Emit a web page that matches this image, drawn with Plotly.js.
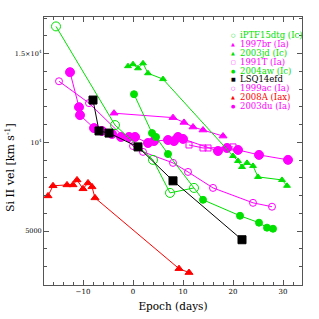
<!DOCTYPE html>
<html><head><meta charset="utf-8">
<script src="https://cdn.plot.ly/plotly-3.0.1.min.js"></script>
<style>html,body{margin:0;padding:0;background:#fff}#c{width:319px;height:319px}</style>
</head><body><div id="c"></div>
<script>
// ---- data (epoch in days, Si II velocity in km/s) ----
const names = ["iPTF15dtg (Ic)","1997br (Ia)","2003jd (Ic)","1991T (Ia)","2004aw (Ic)","LSQ14efd","1999ac (Ia)","2008A (Iax)","2003du (Ia)"];
const iptfX = [-15.4, -3.6, 4.0, 7.4, 12.2];
const iptfY = [16530, 10970, 9010, 7150, 7430];
const br97X = [-3.8, 8.0, 10.2, 12.0, 14.0, 18.0];
const br97Y = [11640, 11390, 11120, 10860, 10690, 10350];
const jd03X = [-1.0, 0.0, 1.0, 2.0, 3.0, 6.0, 20.0, 21.0, 21.8, 22.8, 24.0, 25.0, 29.8, 30.8];
const jd03Y = [14290, 14400, 14170, 14450, 13890, 13560, 9230, 8950, 8610, 8840, 8670, 8050, 7880, 7550];
const t91X = [11.2, 14.0, 15.0, 20.0];
const t91Y = [9850, 9680, 9680, 9740];
const aw04X = [0.2, 3.8, 4.6, 7.0, 14.0, 21.4, 25.2, 26.8, 28.0];
const aw04Y = [12710, 10520, 10300, 9340, 6760, 5860, 5470, 5190, 5130];
const lsqX = [-8.0, -6.8, -4.8, 1.0, 8.0, 21.8];
const lsqY = [12380, 10640, 10520, 9740, 7830, 4510];
const ac99X = [-14.8, -8.8, 0.0, 2.0, 8.0, 11.0, 16.0, 24.0, 27.8];
const ac99Y = [13440, 12210, 9790, 9460, 8840, 8330, 7430, 6590, 6370];
const a08X = [-17.0, -16.0, -13.2, -12.0, -11.2, -10.0, -9.0, -8.2, -7.6, 9.2, 11.2];
const a08Y = [6980, 7550, 7600, 7600, 7880, 7380, 7710, 7490, 6870, 2880, 2660];
const du03X = [-12.6, -10.8, -10.6, -7.8, -6.2, -4.2, -2.4, -0.8, 0.4, 3.0, 4.2, 7.0, 8.2, 9.0, 10.0, 17.0, 18.8, 21.0, 25.2, 31.0];
const du03Y = [13950, 11980, 11530, 10800, 10640, 10470, 10300, 10300, 10300, 9960, 10070, 10130, 10070, 10300, 10190, 9510, 9680, 9570, 9290, 9010];
const yTickVals = [5000, 10000, 15000];
const yTickText = ["5000", "10<sup>4</sup>", "1.5×10<sup>4</sup>"];
const xTickVals = [-10, 0, 10, 20, 30];

const GREEN = "rgb(0,225,0)", MAG = "#ff00ff", RED = "#ff0000", BLK = "#000000";
function tr(x, y, color, symbol, size) {
  return {x: x, y: y, type: "scatter", mode: "lines+markers", showlegend: false,
    line: {color: color, width: 1},
    marker: {color: color, symbol: symbol, size: size, line: {color: color, width: 1}}};
}
const data = [
  tr(a08X, a08Y, RED, "triangle-up", 7),
  tr(ac99X, ac99Y, MAG, "circle-open", 7),
  tr(t91X, t91Y, MAG, "square-open", 6),
  tr(du03X, du03Y, MAG, "circle", 9),
  tr(br97X, br97Y, MAG, "triangle-up", 7),
  tr(iptfX, iptfY, GREEN, "circle-open", 9),
  tr(jd03X, jd03Y, GREEN, "triangle-up", 6),
  tr(aw04X, aw04Y, GREEN, "circle", 7),
  tr(lsqX, lsqY, BLK, "square", 8)
];
// legend built from names
const legColors = [GREEN, MAG, GREEN, MAG, GREEN, BLK, MAG, RED, MAG];
const legSyms = ["○","▲","▲","□","●","■","○","▲","●"];
const annotations = [];
names.forEach((n, i) => {
  const yy = 0.933 - i * 0.0332;
  annotations.push({xref: "paper", yref: "paper", x: 0.733, y: yy, xanchor: "center", yanchor: "middle",
    text: legSyms[i], showarrow: false, borderpad: 0, font: {family: "DejaVu Sans", size: 5, color: legColors[i]}});
  annotations.push({xref: "paper", yref: "paper", x: 0.757, y: yy, xanchor: "left", yanchor: "middle",
    text: n, showarrow: false, borderpad: 0, font: {family: "DejaVu Serif", size: 8.5, color: legColors[i]}});
});
annotations.push({xref: "paper", yref: "paper", x: -0.132, y: 0.44, xanchor: "center", yanchor: "middle",
  textangle: -90, text: "Si II vel [km s<sup>-1</sup>]", showarrow: false,
  font: {family: "DejaVu Serif", size: 11, color: "#000"}});
const axCommon = {showgrid: false, zeroline: false, showline: true, linecolor: "#555", linewidth: 1,
  mirror: "allticks", ticks: "inside", ticklen: 5, tickcolor: "#555"};
const layout = {
  width: 319, height: 319, margin: {l: 44, r: 17, t: 17, b: 34},
  paper_bgcolor: "#fff", plot_bgcolor: "#fff",
  xaxis: Object.assign({}, axCommon, {range: [-17.8, 33.8], tickvals: xTickVals,
    minor: {dtick: 2, ticks: "inside", ticklen: 3, tickcolor: "#555"},
    tickfont: {family: "DejaVu Serif", size: 7, color: "#000"},
    title: {text: "Epoch (days)", font: {family: "DejaVu Serif", size: 10.5, color: "#000"}, standoff: 7}}),
  yaxis: Object.assign({}, axCommon, {range: [1960, 17060], tickvals: yTickVals, ticktext: yTickText,
    minor: {dtick: 1000, ticks: "inside", ticklen: 3, tickcolor: "#555"},
    tickfont: {family: "DejaVu Serif", size: 6.5, color: "#000"}}),
  annotations: annotations
};
Plotly.newPlot("c", data, layout, {staticPlot: true, displayModeBar: false});
</script></body></html>
